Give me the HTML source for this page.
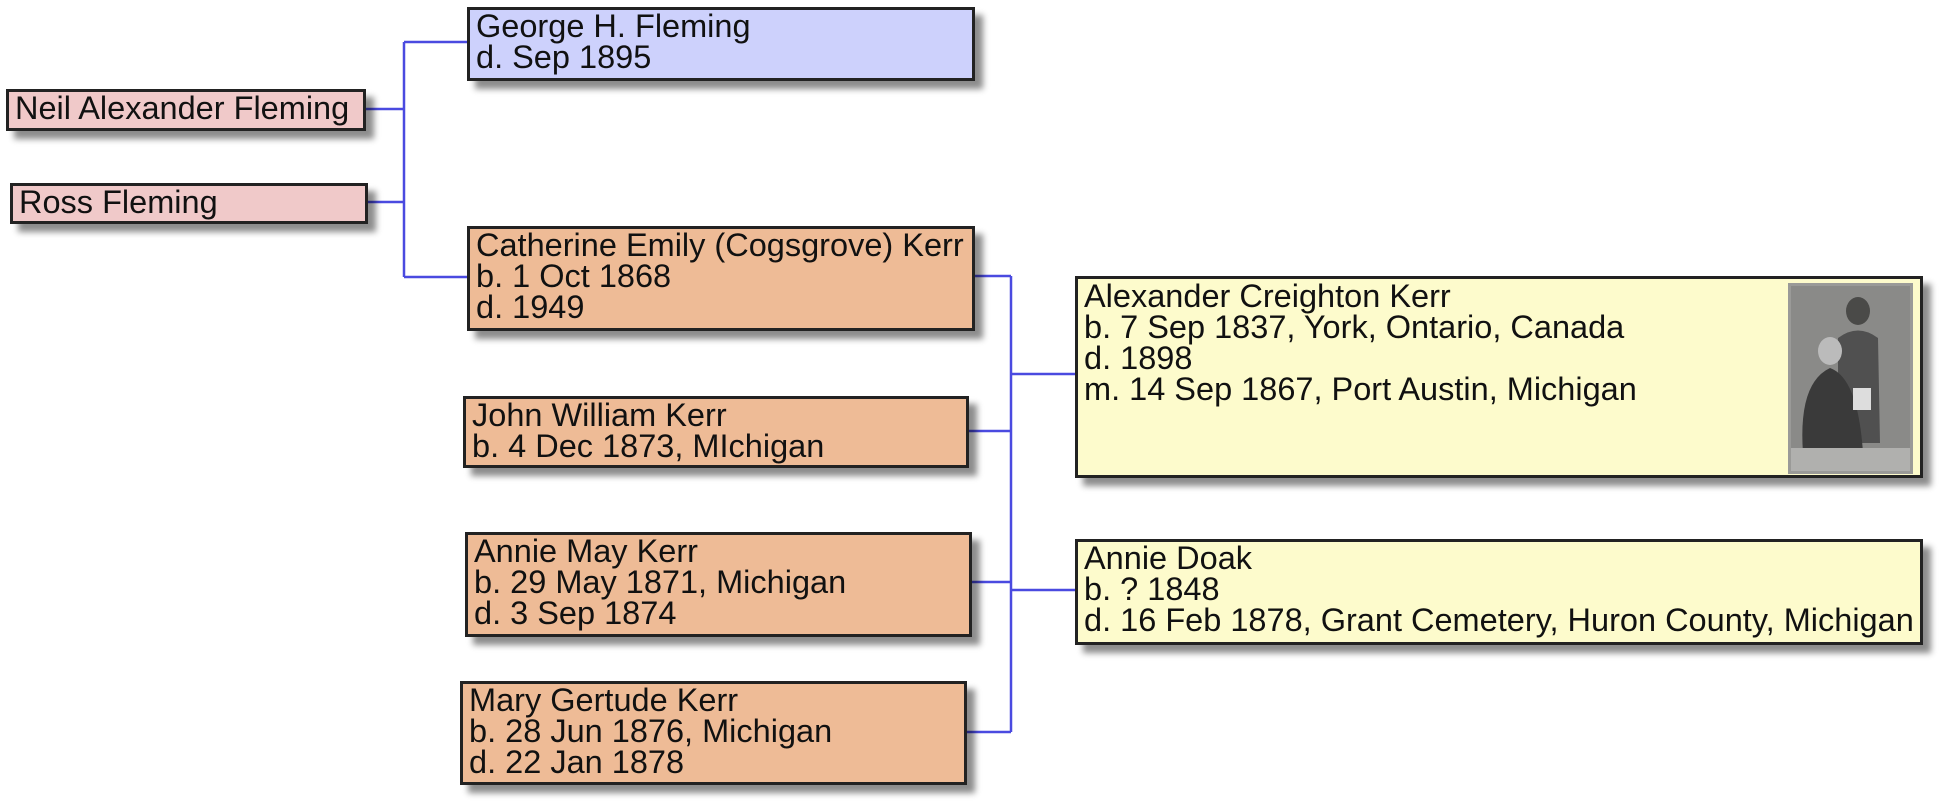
<!DOCTYPE html>
<html><head><meta charset="utf-8"><style>
html,body{margin:0;padding:0;background:#fff;width:1946px;height:809px;overflow:hidden;position:relative}
.b{position:absolute;box-sizing:border-box;border:3px solid #222;padding:1px 6px;font-family:"Liberation Sans",Arial,sans-serif;font-size:32.5px;line-height:31px;color:#111;white-space:nowrap;box-shadow:8px 8px 6px rgba(0,0,0,0.45)}
.p{background:#f0c9c9}.bl{background:#cdd1fc}.o{background:#eebb96}.y{background:#fdfbcc}
svg{position:absolute;left:0;top:0}
</style></head><body>
<svg width="1946" height="809">
<g stroke="#4a4ae0" stroke-width="2.5" fill="none">
<path d="M366 109H404M368 202H404M404 42V277M404 42H467M404 277H467"/>
<path d="M975 276H1011M969 431H1011M972 582H1011M967 732H1011M1011 276V732M1011 374H1075M1011 590H1075"/>
</g>
</svg>
<div class="b p" style="left:6px;top:89px;width:360px;height:42px">Neil Alexander Fleming</div>
<div class="b p" style="left:10px;top:183px;width:358px;height:41px">Ross Fleming</div>
<div class="b bl" style="left:467px;top:7px;width:508px;height:74px">George H. Fleming<br>d. Sep 1895</div>
<div class="b o" style="left:467px;top:226px;width:508px;height:105px">Catherine Emily (Cogsgrove) Kerr<br>b. 1 Oct 1868<br>d. 1949</div>
<div class="b o" style="left:463px;top:396px;width:506px;height:72px">John William Kerr<br>b. 4 Dec 1873, MIchigan</div>
<div class="b o" style="left:465px;top:532px;width:507px;height:105px">Annie May Kerr<br>b. 29 May 1871, Michigan<br>d. 3 Sep 1874</div>
<div class="b o" style="left:460px;top:681px;width:507px;height:104px">Mary Gertude Kerr<br>b. 28 Jun 1876, Michigan<br>d. 22 Jan 1878</div>
<div class="b y" style="left:1075px;top:276px;width:848px;height:202px;padding-top:2px">Alexander Creighton Kerr<br>b. 7 Sep 1837, York, Ontario, Canada<br>d. 1898<br>m. 14 Sep 1867, Port Austin, Michigan
<svg style="left:710px;top:4px" width="125" height="191" viewBox="0 0 125 191">
<rect width="125" height="191" fill="#9a9a98"/>
<rect x="3" y="3" width="119" height="185" fill="#8a8a88"/>
<ellipse cx="70" cy="28" rx="12" ry="14" fill="#4a4a48"/>
<path d="M50 55 Q70 40 90 55 L92 160 L50 160Z" fill="#505050"/>
<ellipse cx="42" cy="68" rx="12" ry="14" fill="#bbb"/>
<path d="M15 170 Q10 100 42 85 Q70 95 75 170Z" fill="#3a3a3a"/>
<rect x="65" y="105" width="18" height="22" fill="#ddd"/>
<rect x="3" y="165" width="119" height="23" fill="#b0b0ae"/>
</svg></div>
<div class="b y" style="left:1075px;top:539px;width:848px;height:106px">Annie Doak<br>b. ? 1848<br>d. 16 Feb 1878, Grant Cemetery, Huron County, Michigan</div>
</body></html>
